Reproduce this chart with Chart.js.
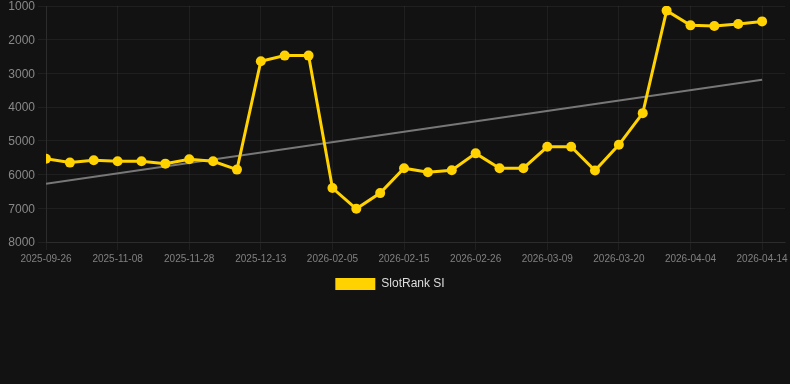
<!DOCTYPE html>
<html lang="en">
<head>
    <meta charset="UTF-8">
    <title>SlotRank SI</title>
    <script src="https://cdn.jsdelivr.net/npm/chart.js@4.4.1/dist/chart.umd.min.js"></script>
    <style>
        body { margin: 0; background: #121212; }
        #wrap { width: 790px; height: 300px; }
    </style>
</head>
<body>

<div id="wrap"><canvas id="rank-chart"></canvas></div>

<script>
    const labels = [
        '2025-09-26', '2025-10-10', '2025-10-24', '2025-11-08', '2025-11-15', '2025-11-21',
        '2025-11-28', '2025-12-03', '2025-12-08', '2025-12-13', '2025-12-28', '2026-01-20',
        '2026-02-05', '2026-02-08', '2026-02-12', '2026-02-15', '2026-02-19', '2026-02-22',
        '2026-02-26', '2026-03-01', '2026-03-05', '2026-03-09', '2026-03-13', '2026-03-16',
        '2026-03-20', '2026-03-25', '2026-03-30', '2026-04-04', '2026-04-07', '2026-04-11',
        '2026-04-14'
    ];
    const rankValues = [
        5530, 5645, 5577, 5607, 5607, 5676, 5547, 5607, 5853, 2638,
        2471, 2471, 6400, 7015, 6550, 5812, 5930, 5870, 5371, 5812,
        5812, 5176, 5176, 5880, 5118, 4178, 1137, 1574, 1592, 1534,
        1457
    ];
    const trendStart = 6270;
    const trendEnd = 3190;
    const yTicks = [1000, 2000, 3000, 4000, 5000, 6000, 7000, 8000];

    const gridColor = 'rgba(255,255,255,0.06)';
    const font = 'Liberation Sans, Arial, sans-serif';

    const rankPoints = rankValues.map((v, i) => ({x: i, y: v}));
    const trendPoints = [{x: 0, y: trendStart}, {x: labels.length - 1, y: trendEnd}];

    // nudge the legend a little left, like the original
    const legendShift = {
        id: 'legendShift',
        afterLayout(chart) {
            chart.legend.left -= 5;
            chart.legend.right -= 5;
        }
    };

    new Chart('rank-chart', {
        type: 'line',
        data: {
            datasets: [{
                label: 'SlotRank SI',
                data: rankPoints,
                borderColor: '#ffd200',
                backgroundColor: '#ffd200',
                borderWidth: 3,
                pointRadius: 5,
                pointBorderWidth: 0,
                tension: 0
            }, {
                label: 'trend',
                data: trendPoints,
                borderColor: '#777777',
                borderWidth: 2,
                pointRadius: 0,
                tension: 0
            }]
        },
        plugins: [legendShift],
        options: {
            responsive: true,
            maintainAspectRatio: false,
            animation: false,
            plugins: {
                tooltip: { enabled: false },
                legend: {
                    position: 'bottom',
                    labels: {
                        color: '#dddddd',
                        boxWidth: 40,
                        boxHeight: 12,
                        font: { family: font, size: 12 },
                        filter: item => item.datasetIndex === 0,
                        generateLabels: chart => {
                            const items = Chart.defaults.plugins.legend.labels.generateLabels(chart);
                            items.forEach(it => { it.lineWidth = 0; });
                            return items;
                        }
                    }
                }
            },
            scales: {
                x: {
                    type: 'linear',
                    min: 0,
                    max: 30.96,
                    afterFit: axis => { axis.paddingLeft = 0; axis.paddingRight = 0; },
                    grid: {
                        color: ctx => (ctx.tick && ctx.tick.value % 3 === 0) ? gridColor : 'transparent'
                    },
                    border: { color: gridColor },
                    ticks: {
                        stepSize: 3,
                        includeBounds: false,
                        autoSkip: false,
                        maxRotation: 0,
                        color: '#808080',
                        font: { family: font, size: 10 },
                        callback: v => (v % 3 === 0 && labels[v]) ? labels[v] : ''
                    }
                },
                y: {
                    reverse: true,
                    min: yTicks[0],
                    max: yTicks[yTicks.length - 1],
                    afterFit: axis => { axis.width = 46; axis.paddingTop = 6; },
                    grid: { color: gridColor },
                    border: { color: gridColor },
                    ticks: {
                        stepSize: 1000,
                        labelOffset: 1,
                        color: '#888888',
                        font: { family: font, size: 12 },
                        callback: v => String(v)
                    }
                }
            }
        }
    });
</script>

</body>
</html>
